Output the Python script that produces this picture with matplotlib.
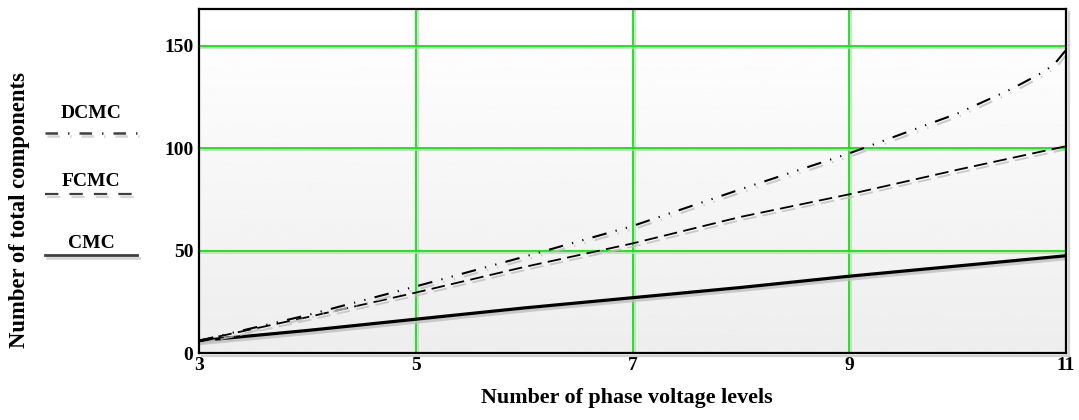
import numpy as np
import matplotlib
matplotlib.use("Agg")
import matplotlib.pyplot as plt
import matplotlib.patheffects as pe
from matplotlib.lines import Line2D

levels = [3, 4, 5, 6, 7, 8, 9, 10, 11]
cmc = [6, 11, 16.5, 22, 27, 32, 37.5, 42.5, 47.5]
fcmc = [6, 17.5, 29.5, 42, 53.5, 66.5, 77.5, 89.5, 101]
dcmc_levels = [3, 4, 5, 6, 7, 8, 9, 10, 10.5, 10.8, 10.9, 11]
dcmc = [6, 18.5, 32.5, 47, 62, 80, 97.5, 117, 129, 137.5, 141.5, 148]

xticks = [3, 5, 7, 9, 11]
yticks = [0, 50, 100, 150]

W, H = 1079, 420
plt.rcParams["font.family"] = ["Liberation Serif", "DejaVu Serif"]
plt.rcParams["font.weight"] = "bold"

fig = plt.figure(figsize=(W / 100, H / 100), dpi=100)
fig.patch.set_facecolor("white")
ax = fig.add_axes([199 / W, 1 - 353 / H, (1066 - 199) / W, (353 - 9) / H])

# gradient background
grad = np.linspace(0.93, 1.0, 256).reshape(-1, 1)
ax.imshow(grad, cmap="gray", vmin=0, vmax=1, aspect="auto", origin="lower",
          extent=[0, 1, 0, 1], transform=ax.transAxes, zorder=0)

shadow = [pe.SimpleLineShadow(offset=(1.5, -2), shadow_color="0.75", alpha=0.8), pe.Normal()]

ax.plot(levels, cmc, color="black", lw=2.3, path_effects=shadow, zorder=5)
ax.plot(levels, fcmc, color="black", lw=1.3, linestyle=(0, (7.5, 3.5)),
        path_effects=shadow, zorder=5)
ax.plot(dcmc_levels, dcmc, color="black", lw=1.5,
        linestyle=(0, (7, 4.5, 0.6, 4.5, 0.6, 4.5)), path_effects=shadow, zorder=5)

ax.set_xlim(3, 11)
ax.set_ylim(0, 168)
ax.set_xticks(xticks)
ax.set_yticks(yticks)
ax.tick_params(length=0, labelsize=14)
ax.tick_params(axis="y", pad=4)
ax.tick_params(axis="x", pad=3)
for lab in ax.get_xticklabels() + ax.get_yticklabels():
    lab.set_fontweight("bold")

for v in [5, 7, 9]:
    ax.axvline(v, color="#00ee00", lw=1.3, zorder=2,
               path_effects=[pe.SimpleLineShadow(offset=(1.5, 0), shadow_color="0.8", alpha=0.8), pe.Normal()])
for v in [50, 100, 150]:
    ax.axhline(v, color="#00ee00", lw=1.3, zorder=2,
               path_effects=[pe.SimpleLineShadow(offset=(0, -1.5), shadow_color="0.8", alpha=0.8), pe.Normal()])

for s in ax.spines.values():
    s.set_linewidth(1.6)
    s.set_color("black")
    s.set_zorder(6)
ax.spines["right"].set_path_effects([pe.SimpleLineShadow(offset=(2, -2), shadow_color="0.8", alpha=0.9), pe.Normal()])
ax.spines["bottom"].set_path_effects([pe.SimpleLineShadow(offset=(2, -2), shadow_color="0.8", alpha=0.9), pe.Normal()])

fig.text(627 / W, 1 - 398 / H, "Number of phase voltage levels", ha="center", va="center",
         fontsize=15.8, fontweight="bold")
fig.text(20 / W, 1 - 210 / H, "Number of total components", ha="center", va="center",
         rotation=90, fontsize=16.3, fontweight="bold")

# legend at the left
legend_names = ["DCMC", "FCMC", "CMC"]
legend_styles = [(0, (5, 4, 0.6, 4)), (0, (6, 5)), "-"]
legend_widths = [1.8, 1.6, 2.0]
text_y = [114, 182, 243]
line_y = [133, 194, 255]
for name, ls, lw, ty, ly in zip(legend_names, legend_styles, legend_widths, text_y, line_y):
    fig.text(91 / W, 1 - ty / H, name, ha="center", va="center", fontsize=14, fontweight="bold")
    fig.add_artist(Line2D([45 / W, 137 / W], [1 - ly / H, 1 - ly / H], transform=fig.transFigure,
                          color="0.25", lw=lw, linestyle=ls,
                          path_effects=[pe.SimpleLineShadow(offset=(1.5, -2), shadow_color="0.8", alpha=0.8), pe.Normal()]))

fig.savefig("out.png", dpi=100)
